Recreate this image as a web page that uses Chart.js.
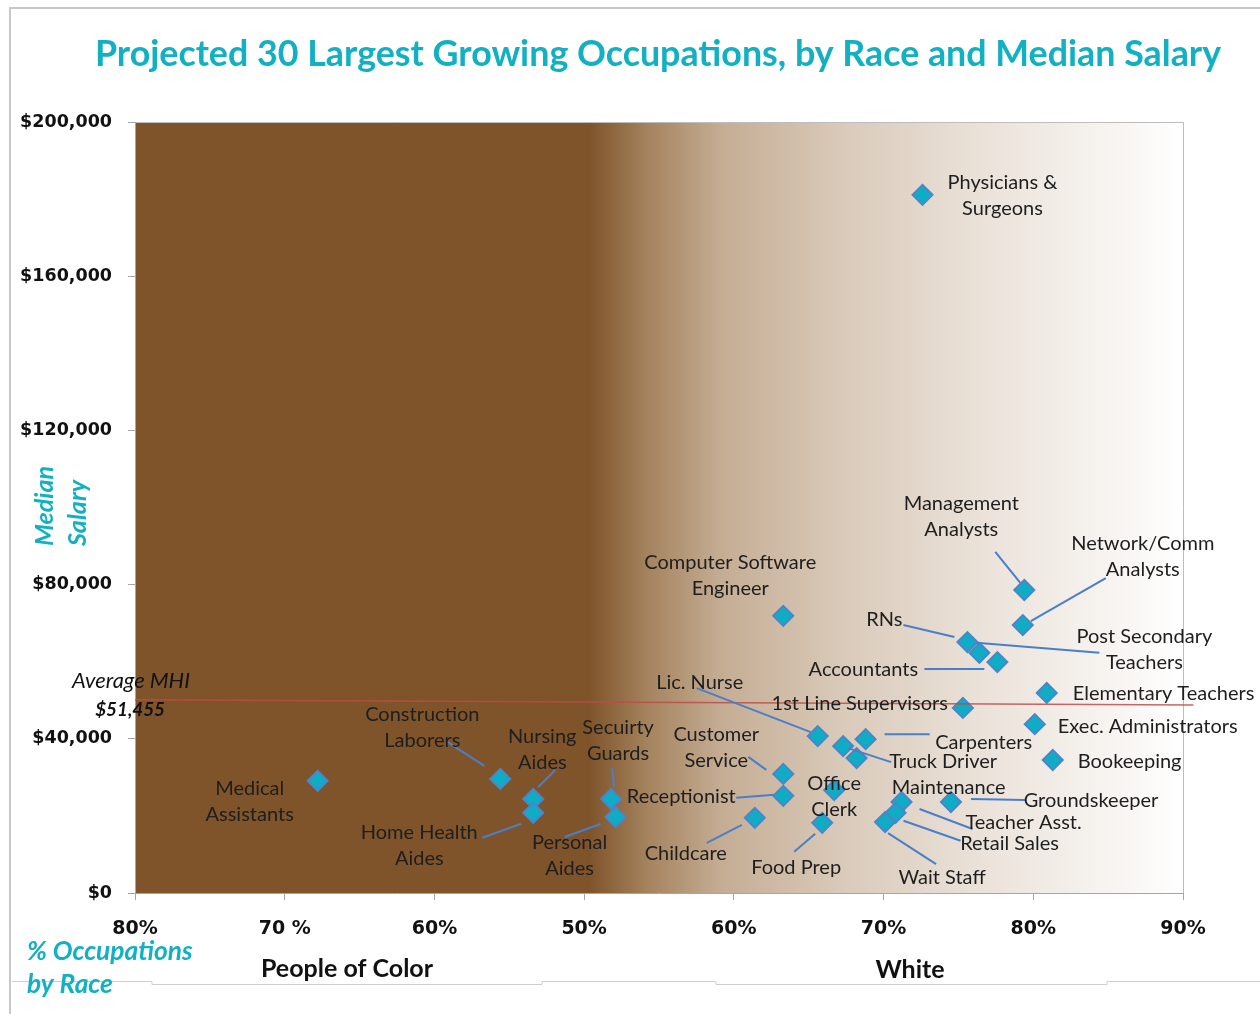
<!DOCTYPE html>
<html>
<head>
<meta charset="utf-8">
<script src="https://cdn.jsdelivr.net/npm/chart.js@4.4.1/dist/chart.umd.min.js"></script>
<style>
  html, body { margin: 0; padding: 0; background: #fff; }
  #wrap { width: 1260px; height: 1014px; }
</style>
</head>
<body>
<div id="wrap"><canvas id="chart" width="1260" height="1014"></canvas></div>
<script>
// Occupations, share of white workers (%), median salary ($)
const occupations = [
  'Physicians &\nSurgeons', 'Management\nAnalysts', 'Network/Comm\nAnalysts',
  'Computer Software\nEngineer', 'RNs', 'Post Secondary\nTeachers', 'Accountants',
  'Elementary Teachers', '1st Line Supervisors', 'Exec. Administrators', 'Bookeeping',
  'Lic. Nurse', 'Truck Driver', 'Maintenance', 'Carpenters', 'Customer\nService',
  'Office\nClerk', 'Receptionist', 'Food Prep', 'Childcare', 'Teacher Asst.',
  'Retail Sales', 'Wait Staff', 'Groundskeeper', 'Secuirty\nGuards', 'Personal\nAides',
  'Nursing\nAides', 'Home Health\nAides', 'Construction\nLaborers', 'Medical\nAssistants'
];
const pctWhite = [
  72.6, 79.4, 79.3, 63.3, 75.6, 76.4, 77.6, 80.9, 75.3, 80.1, 81.3,
  65.6, 67.3, 68.2, 68.8, 63.3, 66.7, 63.3, 65.9, 61.4, 71.2,
  70.8, 70.1, 74.5, 51.8, 52.1, 46.6, 46.6, 44.4, 32.2
];
const medianSalary = [
  181100, 78600, 69500, 71900, 65100, 62300, 59900, 51900, 48000, 43800, 34500,
  40700, 38100, 35000, 39900, 30900, 26700, 25200, 18200, 19500, 23600,
  20800, 18400, 23600, 24400, 19700, 24400, 20800, 29600, 29100
];

// Average MHI reference line (as drawn, slightly sloped)
const mhiX = [20, 90.7];
const mhiY = [50100, 48800];

// Axis ticks: left half reads % people of color, right half % white
const xTickValues = [20, 30, 40, 50, 60, 70, 80, 90];
const xTickLabels = ['80%', '70 %', '60%', '50%', '60%', '70%', '80%', '90%'];
const yTickValues = [0, 40000, 80000, 120000, 160000, 200000];

// label placement relative to each point (px): text anchor + leader line
const labelLayout = [
  { dx: 80, dy: 1 },
  { dx: -63, dy: -73, lead: [-29, -38, -4, -7] },
  { dx: 120, dy: -69, lead: [83, -47, 8, -4] },
  { dx: -53, dy: -40 },
  { dx: -83, dy: -22, lead: [-64, -17, -13, -5] },
  { dx: 165, dy: -3, lead: [-3, -10, 120, 0] },
  { dx: -134, dy: 7, lead: [-73, 7, -13, 7] },
  { dx: 26, dy: 1, align: 'left' },
  { dx: -15, dy: -4, align: 'right' },
  { dx: 23, dy: 2, align: 'left' },
  { dx: 25, dy: 2, align: 'left' },
  { dx: -118, dy: -54, lead: [-121, -48, -7, -4] },
  { dx: 100, dy: 15, lead: [5, 2, 48, 16] },
  { dx: 92, dy: 29 },
  { dx: 118, dy: 3, lead: [19, -5, 64, -5] },
  { dx: -67, dy: -26, lead: [-35, -17, -17, -4] },
  { dx: 0, dy: 6 },
  { dx: -102, dy: 1, lead: [-47, 2, -9, -1] },
  { dx: -26, dy: 45, lead: [-28, 29, -7, 11] },
  { dx: -69, dy: 36, lead: [-48, 25, -13, 7] },
  { dx: 122, dy: 21, lead: [18, 7, 71, 27] },
  { dx: 114, dy: 31, lead: [8, 8, 65, 28] },
  { dx: 57, dy: 55, lead: [3, 11, 51, 42] },
  { dx: 140, dy: -1, lead: [20, -3, 74, -2] },
  { dx: 7, dy: -58, lead: [1, -31, 3, -12] },
  { dx: -46, dy: 38, lead: [-51, 20, -15, 7] },
  { dx: 9, dy: -49, lead: [22, -29, 5, -12] },
  { dx: -114, dy: 33, lead: [-51, 25, -12, 11] },
  { dx: -78, dy: -51, lead: [-53, -37, -16, -13] },
  { dx: -68, dy: 21 }
];

const TEAL = '#12b0c3';
const AXIS_GRAY = '#a6a6a6';

function fitFont(ctx, text, style, family, width) {
  ctx.font = style + ' 40px ' + family;
  const size = 40 * width / ctx.measureText(text).width;
  return style + ' ' + size.toFixed(1) + 'px ' + family;
}

const decor = {
  id: 'decor',
  beforeDraw(chart) {
    const ctx = chart.ctx;
    const a = chart.chartArea;
    ctx.save();
    ctx.fillStyle = '#fff';
    ctx.fillRect(0, 0, chart.width, chart.height);

    // outer frame
    ctx.strokeStyle = '#c8c8c8';
    ctx.lineWidth = 2;
    ctx.beginPath();
    ctx.moveTo(1260, 8); ctx.lineTo(10, 8); ctx.lineTo(10, 1014);
    ctx.stroke();
    ctx.lineWidth = 1;
    ctx.strokeStyle = '#cfcfcf';
    ctx.beginPath();
    ctx.moveTo(12, 981.5); ctx.lineTo(152, 981.5); ctx.lineTo(152, 984.5); ctx.lineTo(542, 984.5);
    ctx.lineTo(542, 981.5); ctx.lineTo(716, 981.5); ctx.lineTo(716, 984.5); ctx.lineTo(1107, 984.5);
    ctx.lineTo(1107, 981.5); ctx.lineTo(1260, 981.5);
    ctx.stroke();

    // plot background: brown fading to white
    const g = ctx.createLinearGradient(a.left, 0, a.right, 0);
    g.addColorStop(0, '#7f542b');
    g.addColorStop(0.434, '#7f542b');
    g.addColorStop(0.49, '#a5845f');
    g.addColorStop(0.56, '#c5ad94');
    g.addColorStop(0.68, '#dacbbb');
    g.addColorStop(0.82, '#ece4dc');
    g.addColorStop(0.94, '#f8f5f2');
    g.addColorStop(1, '#ffffff');
    ctx.fillStyle = g;
    ctx.fillRect(a.left, a.top, a.right - a.left, a.bottom - a.top);

    // plot border top/right
    ctx.strokeStyle = '#bdbdbd';
    ctx.lineWidth = 1;
    ctx.beginPath();
    ctx.moveTo(a.left, a.top + 0.5); ctx.lineTo(a.right + 0.5, a.top + 0.5); ctx.lineTo(a.right + 0.5, a.bottom);
    ctx.stroke();

    // title
    const title = 'Projected 30 Largest Growing Occupations, by Race and Median Salary';
    ctx.font = fitFont(ctx, title, 'bold', 'Lato', 1127);
    ctx.fillStyle = TEAL;
    ctx.textAlign = 'center';
    ctx.textBaseline = 'middle';
    ctx.fillText(title, 658, 54);
    ctx.restore();
  },
  afterDatasetsDraw(chart) {
    const ctx = chart.ctx;
    const xs = chart.scales.x, ys = chart.scales.y;
    ctx.save();
    // leader lines
    ctx.strokeStyle = '#4a7fc8';
    ctx.lineWidth = 2;
    labelLayout.forEach((l, i) => {
      if (!l.lead) return;
      const px = xs.getPixelForValue(pctWhite[i]);
      const py = ys.getPixelForValue(medianSalary[i]);
      ctx.beginPath();
      ctx.moveTo(px + l.lead[0], py + l.lead[1]);
      ctx.lineTo(px + l.lead[2], py + l.lead[3]);
      ctx.stroke();
    });
    // labels
    ctx.font = '20px Lato';
    ctx.fillStyle = '#1e1e1e';
    ctx.textBaseline = 'middle';
    labelLayout.forEach((l, i) => {
      const px = xs.getPixelForValue(pctWhite[i]);
      const py = ys.getPixelForValue(medianSalary[i]);
      const lines = occupations[i].split('\n');
      ctx.textAlign = l.align || 'center';
      const y0 = py + l.dy - (lines.length - 1) * 13;
      lines.forEach((t, k) => ctx.fillText(t, px + l.dx, y0 + k * 26));
    });
    ctx.restore();
  },
  afterDraw(chart) {
    const ctx = chart.ctx;
    ctx.save();
    ctx.textBaseline = 'middle';

    // average MHI note
    ctx.fillStyle = '#111';
    ctx.textAlign = 'right';
    ctx.font = fitFont(ctx, 'Average MHI', 'italic', 'Lato', 118);
    ctx.fillText('Average MHI', 190, 681);
    ctx.font = fitFont(ctx, '$51,455', 'italic bold', 'Lato', 70);
    ctx.fillText('$51,455', 165, 710);

    // y axis title
    ctx.fillStyle = TEAL;
    ctx.font = 'italic bold 25px Lato';
    ctx.translate(45, 546);
    ctx.rotate(-Math.PI / 2);
    ctx.textAlign = 'left';
    ctx.fillText('Median', 0, 0);
    ctx.fillText('Salary', 0, 33);
    ctx.setTransform(1, 0, 0, 1, 0, 0);

    // x axis notes
    ctx.textAlign = 'left';
    ctx.font = fitFont(ctx, '% Occupations', 'italic bold', 'Lato', 166);
    ctx.fillText('% Occupations', 27, 952);
    ctx.fillText('by Race', 27, 985);

    ctx.fillStyle = '#111';
    ctx.textAlign = 'center';
    ctx.font = 'bold 25px Lato';
    ctx.fillText('People of Color', 347, 969);
    ctx.fillText('White', 910, 970);
    ctx.restore();
  }
};

new Chart(document.getElementById('chart'), {
  type: 'scatter',
  data: {
    datasets: [
      {
        type: 'line',
        data: mhiX.map((x, i) => ({ x: x, y: mhiY[i] })),
        borderColor: 'rgba(190,75,70,0.85)',
        borderWidth: 1.5,
        pointRadius: 0,
        clip: false,
        order: 0
      },
      {
        data: pctWhite.map((x, i) => ({ x: x, y: medianSalary[i] })),
        pointStyle: 'rectRot',
        pointRadius: 10,
        backgroundColor: '#0fadc5',
        borderColor: '#4a86c8',
        borderWidth: 2,
        order: 1
      }
    ]
  },
  options: {
    responsive: false,
    animation: false,
    devicePixelRatio: 1,
    layout: { padding: { left: 0, top: 122, right: 77, bottom: 0 } },
    plugins: { legend: { display: false }, tooltip: { enabled: false } },
    scales: {
      x: {
        type: 'linear',
        min: 20,
        max: 90,
        afterFit(s) { s.height = 121; },
        afterBuildTicks(s) { s.ticks = xTickValues.map(v => ({ value: v })); },
        ticks: {
          callback: v => xTickLabels[xTickValues.indexOf(v)],
          font: { family: 'DejaVu Sans', weight: 'bold', size: 19 },
          color: '#111',
          padding: 18,
          maxRotation: 0,
          autoSkip: false
        },
        grid: { drawOnChartArea: false, drawTicks: true, tickLength: 7, color: AXIS_GRAY },
        border: { display: true, color: AXIS_GRAY }
      },
      y: {
        min: 0,
        max: 200000,
        afterFit(s) { s.width = 135; },
        afterBuildTicks(s) { s.ticks = yTickValues.map(v => ({ value: v })); },
        ticks: {
          callback: v => '$' + v.toLocaleString('en-US'),
          font: { family: 'DejaVu Sans', weight: 'bold', size: 17.5 },
          color: '#111',
          padding: 16
        },
        grid: { drawOnChartArea: false, drawTicks: true, tickLength: 7, color: AXIS_GRAY },
        border: { display: true, color: AXIS_GRAY }
      }
    }
  },
  plugins: [decor]
});
</script>
</body>
</html>
